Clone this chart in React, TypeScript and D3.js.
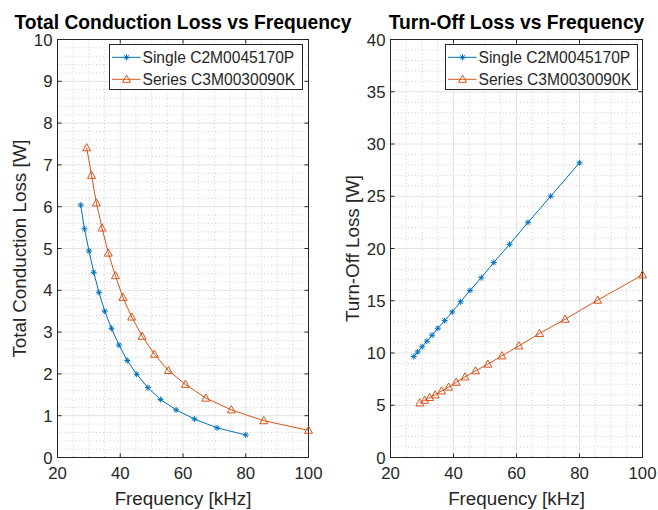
import React from "react";
import * as d3 from "d3";

const freqSingle = [27.4, 28.6, 30.05, 31.55, 33.2, 35.05, 37.2, 39.6, 42.25, 45.25, 48.8, 52.8, 57.8, 63.65, 70.85, 80.0];
const condSingle = [6.04, 5.47, 4.94, 4.43, 3.95, 3.5, 3.09, 2.69, 2.32, 1.99, 1.67, 1.39, 1.14, 0.92, 0.71, 0.54];
const turnOffSingle = [9.66, 10.1, 10.6, 11.13, 11.7, 12.37, 13.1, 13.93, 14.9, 15.98, 17.2, 18.66, 20.4, 22.5, 25.0, 28.2];
const freqSeries = [29.3, 30.85, 32.4, 34.2, 36.2, 38.45, 40.85, 43.65, 47.0, 50.9, 55.35, 60.75, 67.3, 75.4, 85.75, 100];
const condSeries = [7.41, 6.75, 6.09, 5.49, 4.89, 4.35, 3.83, 3.36, 2.9, 2.47, 2.08, 1.75, 1.42, 1.14, 0.88, 0.65];
const turnOffSeries = [5.22, 5.48, 5.74, 5.99, 6.37, 6.73, 7.2, 7.71, 8.29, 8.93, 9.72, 10.68, 11.87, 13.23, 15.05, 17.47];

const xTicks = [20, 40, 60, 80, 100];
const leftYTicks = [0, 1, 2, 3, 4, 5, 6, 7, 8, 9, 10];
const rightYTicks = [0, 5, 10, 15, 20, 25, 30, 35, 40];
const legendLabels = ["Single C2M0045170P", "Series C3M0030090K"];

const BLUE = "#0072BD";
const RED = "#D95319";
const AX = "#262626";
const FONT = "Arial, 'Liberation Sans', Helvetica, sans-serif";

type PanelProps = {
  x0: number; x1: number; y0: number; y1: number;
  yMax: number; yTicks: number[]; yMinorStep: number;
  ySingle: number[]; ySeries: number[];
  title: string; yLabel: string; yLabelX: number;
  legendX: number; legendW: number;
};

function Asterisk({ cx, cy, r }: { cx: number; cy: number; r: number }) {
  const d = r * 0.72;
  return (
    <g stroke={BLUE} strokeWidth={1}>
      <line x1={cx - r} y1={cy} x2={cx + r} y2={cy} />
      <line x1={cx} y1={cy - r} x2={cx} y2={cy + r} />
      <line x1={cx - d} y1={cy - d} x2={cx + d} y2={cy + d} />
      <line x1={cx - d} y1={cy + d} x2={cx + d} y2={cy - d} />
    </g>
  );
}

function Tri({ cx, cy }: { cx: number; cy: number }) {
  const w = 4, h = 3.6;
  return (
    <path
      d={`M${cx},${cy - h - 0.6}L${cx + w},${cy + h - 0.6}L${cx - w},${cy + h - 0.6}Z`}
      fill="none"
      stroke={RED}
      strokeWidth={1}
    />
  );
}

function Panel(p: PanelProps) {
  const x = d3.scaleLinear().domain([20, 100]).range([p.x0, p.x1]);
  const y = d3.scaleLinear().domain([0, p.yMax]).range([p.y1, p.y0]);
  const xMinor = d3.range(20, 100.001, 5).filter((v) => v % 20 !== 0);
  const yMinor = d3.range(0, p.yMax + 1e-6, p.yMinorStep).filter(
    (v) => !p.yTicks.some((t) => Math.abs(t - v) < 1e-6)
  );
  const line = d3.line<[number, number]>().x((d) => x(d[0])).y((d) => y(d[1]));
  const single: [number, number][] = freqSingle.map((f, i) => [f, p.ySingle[i]]);
  const series: [number, number][] = freqSeries.map((f, i) => [f, p.ySeries[i]]);
  const tl = 4;
  const cxm = (p.x0 + p.x1) / 2;
  const cym = (p.y0 + p.y1) / 2;
  const lx = p.legendX, ly = 44.5, lh = 45;
  return (
    <g fontFamily={FONT}>
      {/* minor grid */}
      <g stroke="#cfcfcf" strokeWidth={1} strokeDasharray="1,2.5">
        {xMinor.map((v) => (
          <line key={"xm" + v} x1={x(v)} x2={x(v)} y1={p.y0} y2={p.y1} />
        ))}
        {yMinor.map((v) => (
          <line key={"ym" + v} x1={p.x0} x2={p.x1} y1={y(v)} y2={y(v)} />
        ))}
      </g>
      {/* major grid */}
      <g stroke="#e3e3e3" strokeWidth={1}>
        {xTicks.map((v) => (
          <line key={"xg" + v} x1={x(v)} x2={x(v)} y1={p.y0} y2={p.y1} />
        ))}
        {p.yTicks.map((v) => (
          <line key={"yg" + v} x1={p.x0} x2={p.x1} y1={y(v)} y2={y(v)} />
        ))}
      </g>
      {/* ticks */}
      <g stroke={AX} strokeWidth={1}>
        {xTicks.map((v) => (
          <g key={"xt" + v}>
            <line x1={x(v)} x2={x(v)} y1={p.y1} y2={p.y1 - tl} />
            <line x1={x(v)} x2={x(v)} y1={p.y0} y2={p.y0 + tl} />
          </g>
        ))}
        {p.yTicks.map((v) => (
          <g key={"yt" + v}>
            <line x1={p.x0} x2={p.x0 + tl} y1={y(v)} y2={y(v)} />
            <line x1={p.x1} x2={p.x1 - tl} y1={y(v)} y2={y(v)} />
          </g>
        ))}
      </g>
      {/* box */}
      <rect x={p.x0} y={p.y0} width={p.x1 - p.x0} height={p.y1 - p.y0} fill="none" stroke={AX} strokeWidth={1} />
      {/* tick labels */}
      <g fill={AX} fontSize={16.8}>
        {xTicks.map((v) => (
          <text key={"xl" + v} x={x(v)} y={479} textAnchor="middle">{v}</text>
        ))}
        {p.yTicks.map((v) => (
          <text key={"yl" + v} x={p.x0 - 5} y={y(v) + 6} textAnchor="end">{v}</text>
        ))}
      </g>
      {/* data */}
      <path d={line(single) || ""} fill="none" stroke={BLUE} strokeWidth={1} />
      <path d={line(series) || ""} fill="none" stroke={RED} strokeWidth={1} />
      {single.map((d, i) => (
        <Asterisk key={"s" + i} cx={x(d[0])} cy={y(d[1])} r={3} />
      ))}
      {series.map((d, i) => (
        <Tri key={"r" + i} cx={x(d[0])} cy={y(d[1])} />
      ))}
      {/* labels */}
      <text x={cxm} y={505} textAnchor="middle" fontSize={18.8} fill={AX}>Frequency [kHz]</text>
      <text
        transform={`translate(${p.yLabelX},${cym}) rotate(-90)`}
        textAnchor="middle"
        fontSize={18.8}
        fill={AX}
      >
        {p.yLabel}
      </text>
      <text x={cxm} y={28.5} textAnchor="middle" fontSize={19.3} fontWeight="bold" fill="#000">
        {p.title}
      </text>
      {/* legend */}
      <rect x={lx} y={ly} width={p.legendW} height={lh} fill="#fff" stroke={AX} strokeWidth={1} />
      <line x1={lx + 2.5} x2={lx + 31} y1={ly + 12.8} y2={ly + 12.8} stroke={BLUE} strokeWidth={1} />
      <Asterisk cx={lx + 17} cy={ly + 12.8} r={3} />
      <line x1={lx + 2.5} x2={lx + 31} y1={ly + 34.8} y2={ly + 34.8} stroke={RED} strokeWidth={1} />
      <Tri cx={lx + 17} cy={ly + 34.8} />
      <g fontSize={15.6} fill={AX}>
        <text x={lx + 33} y={ly + 12.8 + 5.6}>{legendLabels[0]}</text>
        <text x={lx + 33} y={ly + 34.8 + 5.6}>{legendLabels[1]}</text>
      </g>
    </g>
  );
}

export default function App() {
  return (
    <div style={{ position: "absolute", left: 0, top: 0 }}>
      <svg width={658} height={510} style={{ display: "block", background: "#fff" }}>
        <rect width={658} height={510} fill="#fff" />
        <Panel
          x0={57.5} x1={308.5} y0={39.5} y1={457.5}
          yMax={10} yTicks={leftYTicks} yMinorStep={0.2}
          ySingle={condSingle} ySeries={condSeries}
          title="Total Conduction Loss vs Frequency"
          yLabel="Total Conduction Loss [W]" yLabelX={26}
          legendX={109.5} legendW={193}
        />
        <Panel
          x0={390.5} x1={642.5} y0={39.5} y1={457.5}
          yMax={40} yTicks={rightYTicks} yMinorStep={1}
          ySingle={turnOffSingle} ySeries={turnOffSeries}
          title="Turn-Off Loss vs Frequency"
          yLabel="Turn-Off Loss [W]" yLabelX={359}
          legendX={445.5} legendW={192}
        />
      </svg>
    </div>
  );
}
